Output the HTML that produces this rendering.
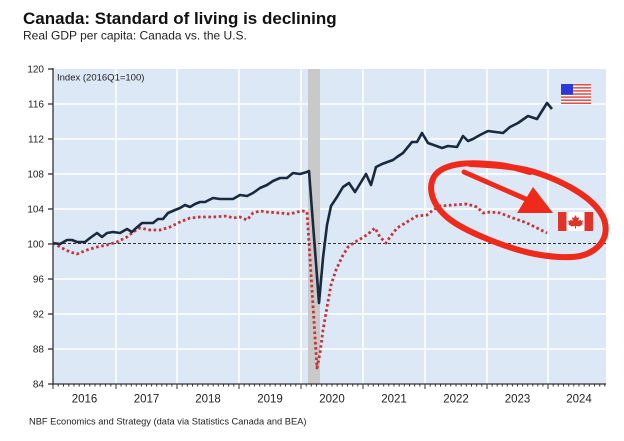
<!DOCTYPE html>
<html><head><meta charset="utf-8"><style>
html,body{margin:0;padding:0;background:#fff;}
svg{display:block;}
text{font-family:"Liberation Sans",Arial,sans-serif;}
</style></head><body>
<svg width="624" height="441" viewBox="0 0 624 441" xmlns="http://www.w3.org/2000/svg">
<rect width="624" height="441" fill="#fff"/>
<text x="23" y="24" font-size="17" font-weight="bold" fill="#111">Canada: Standard of living is declining</text>
<text x="23" y="39.5" font-size="12" fill="#222">Real GDP per capita: Canada vs. the U.S.</text>

<!-- plot background -->
<rect x="53" y="69" width="553" height="315" fill="#dde8f7"/>
<!-- grid -->
<g stroke="#fff" stroke-width="1.5">
<line x1="53" y1="104" x2="606" y2="104"/>
<line x1="53" y1="139" x2="606" y2="139"/>
<line x1="53" y1="174" x2="606" y2="174"/>
<line x1="53" y1="209" x2="606" y2="209"/>
<line x1="53" y1="279" x2="606" y2="279"/>
<line x1="53" y1="314" x2="606" y2="314"/>
<line x1="53" y1="349" x2="606" y2="349"/>
<line x1="116" y1="69" x2="116" y2="384"/>
<line x1="177" y1="69" x2="177" y2="384"/>
<line x1="239" y1="69" x2="239" y2="384"/>
<line x1="301" y1="69" x2="301" y2="384"/>
<line x1="363" y1="69" x2="363" y2="384"/>
<line x1="425" y1="69" x2="425" y2="384"/>
<line x1="487" y1="69" x2="487" y2="384"/>
<line x1="548" y1="69" x2="548" y2="384"/>
</g>
<!-- recession shading -->
<rect x="308" y="69" width="12" height="315" fill="#c9c9c9"/>
<!-- 100 line -->
<line x1="53" y1="243.5" x2="606" y2="243.5" stroke="#333" stroke-width="1" stroke-dasharray="3 2"/>

<text x="57" y="80.5" font-size="9.5" fill="#222">Index (2016Q1=100)</text>

<!-- Canada dotted -->
<polyline fill="none" stroke="#c4353a" stroke-width="2.8" stroke-dasharray="2.6 2.6" stroke-linejoin="round"
points="53,243 62,248 70,252 77,254 87,250 97,247 107,245 117,242 127,237 133,232 140,228 150,230 160,230 170,227 180,222 190,218 200,217 213,217 227,216 233,218 240,217 247,220 253,213 260,211 267,212 280,213 290,214 297,212 303,211 307,212 317,368 320,353 323,330 327,307 331,285 336,270 342,257 348,247 355,242 362,238 368,234 375,228 380,237 386,243 390,237 397,228 407,222 417,216 427,215 433,210 440,206 453,205 467,204 477,207 483,213 490,212 500,213 513,218 527,223 537,228 547,233"/>

<!-- US solid -->
<polyline fill="none" stroke="#1a2a3e" stroke-width="2.6" stroke-linejoin="round"
points="53,243 60,244 67,240 72,240 77,242 85,242 90,238 97,233 102,237 107,233 113,232 120,233 127,229 132,232 135,229 142,223 148,223 153,223 158,219 163,219 168,213 175,210 180,208 185,205 190,207 195,204 200,202 205,202 213,198 220,199 233,199 240,195 247,196 253,193 260,188 267,185 273,181 280,178 287,178 293,173 300,174 307,172 309,171 319,303 323,258 327,225 331,206 337,197 343,187 349,183 355,192 366,174 371,185 376,167 382,164 393,160 397,157 403,153 412,142 417,142 422,133 428,143 442,148 448,146 457,147 463,136 468,141 473,139 480,135 488,131 503,133 510,127 518,123 528,116 537,119 547,103 552,109"/>

<!-- axes -->
<g stroke="#333" stroke-width="1.3">
<line x1="53" y1="68" x2="53" y2="385"/>
<line x1="52" y1="384" x2="606" y2="384"/>
<line x1="48" y1="69" x2="53" y2="69"/>
<line x1="48" y1="104" x2="53" y2="104"/>
<line x1="48" y1="139" x2="53" y2="139"/>
<line x1="48" y1="174" x2="53" y2="174"/>
<line x1="48" y1="209" x2="53" y2="209"/>
<line x1="48" y1="244" x2="53" y2="244"/>
<line x1="48" y1="279" x2="53" y2="279"/>
<line x1="48" y1="314" x2="53" y2="314"/>
<line x1="48" y1="349" x2="53" y2="349"/>
<line x1="48" y1="384" x2="53" y2="384"/>
</g>
<g stroke="#333" stroke-width="1">
<path d="M53 384v5M116 384v5M177 384v5M239 384v5M301 384v5M363 384v5M425 384v5M487 384v5M548 384v5"/>
<path d="M58.2 384v2.5M63.5 384v2.5M68.8 384v2.5M74 384v2.5M79.2 384v2.5M84.5 384v2.5M89.8 384v2.5M95 384v2.5M100.2 384v2.5M105.5 384v2.5M110.8 384v2.5
M121.1 384v2.5M126.2 384v2.5M131.3 384v2.5M136.3 384v2.5M141.4 384v2.5M146.5 384v2.5M151.6 384v2.5M156.7 384v2.5M161.8 384v2.5M166.8 384v2.5M171.9 384v2.5
M182.2 384v2.5M187.3 384v2.5M192.5 384v2.5M197.7 384v2.5M202.8 384v2.5M208 384v2.5M213.2 384v2.5M218.3 384v2.5M223.5 384v2.5M228.7 384v2.5M233.8 384v2.5
M244.2 384v2.5M249.3 384v2.5M254.5 384v2.5M259.7 384v2.5M264.8 384v2.5M270 384v2.5M275.2 384v2.5M280.3 384v2.5M285.5 384v2.5M290.7 384v2.5M295.8 384v2.5
M306.2 384v2.5M311.3 384v2.5M316.5 384v2.5M321.7 384v2.5M326.8 384v2.5M332 384v2.5M337.2 384v2.5M342.3 384v2.5M347.5 384v2.5M352.7 384v2.5M357.8 384v2.5
M368.2 384v2.5M373.3 384v2.5M378.5 384v2.5M383.7 384v2.5M388.8 384v2.5M394 384v2.5M399.2 384v2.5M404.3 384v2.5M409.5 384v2.5M414.7 384v2.5M419.8 384v2.5
M430.2 384v2.5M435.3 384v2.5M440.5 384v2.5M445.7 384v2.5M450.8 384v2.5M456 384v2.5M461.2 384v2.5M466.3 384v2.5M471.5 384v2.5M476.7 384v2.5M481.8 384v2.5
M492.1 384v2.5M497.2 384v2.5M502.3 384v2.5M507.3 384v2.5M512.4 384v2.5M517.5 384v2.5M522.6 384v2.5M527.7 384v2.5M532.8 384v2.5M537.8 384v2.5M542.9 384v2.5
M553.2 384v2.5M558.3 384v2.5M563.5 384v2.5M568.7 384v2.5M573.8 384v2.5M579 384v2.5M584.2 384v2.5M589.3 384v2.5M594.5 384v2.5M599.7 384v2.5M604.8 384v2.5"/>
</g>

<g font-size="10" fill="#222" text-anchor="end">
<text x="44" y="72.6">120</text>
<text x="44" y="107.6">116</text>
<text x="44" y="142.6">112</text>
<text x="44" y="177.6">108</text>
<text x="44" y="212.6">104</text>
<text x="44" y="247.6">100</text>
<text x="44" y="282.6">96</text>
<text x="44" y="317.6">92</text>
<text x="44" y="352.6">88</text>
<text x="44" y="387.6">84</text>
</g>
<g font-size="11.5" fill="#222" text-anchor="middle">
<text x="84.5" y="402.5">2016</text>
<text x="146.5" y="402.5">2017</text>
<text x="208" y="402.5">2018</text>
<text x="270" y="402.5">2019</text>
<text x="332" y="402.5">2020</text>
<text x="394" y="402.5">2021</text>
<text x="456" y="402.5">2022</text>
<text x="517.5" y="402.5">2023</text>
<text x="579" y="402.5">2024</text>
</g>
<text x="29" y="424.5" font-size="9.3" fill="#222">NBF Economics and Strategy (data via Statistics Canada and BEA)</text>

<!-- US flag -->
<g>
<rect x="561" y="84" width="30" height="20" fill="#fff"/>
<g fill="#d9534f">
<rect x="561" y="84" width="30" height="1.54"/>
<rect x="561" y="87.08" width="30" height="1.54"/>
<rect x="561" y="90.16" width="30" height="1.54"/>
<rect x="561" y="93.24" width="30" height="1.54"/>
<rect x="561" y="96.32" width="30" height="1.54"/>
<rect x="561" y="99.4" width="30" height="1.54"/>
<rect x="561" y="102.46" width="30" height="1.54"/>
</g>
<rect x="561" y="84" width="12" height="10.8" fill="#2e3ad6"/>
</g>

<!-- Canada flag -->
<g>
<rect x="558" y="212" width="35" height="19" fill="#fff"/>
<rect x="558" y="212" width="8.5" height="19" fill="#e0342b"/>
<rect x="584.5" y="212" width="8.5" height="19" fill="#e0342b"/>
<polygon fill="#e0342b" points="575.5,215 577,218 579,217.3 578.3,221 580.5,219.8 581,221 583,220.6 582,223.2 583.2,223.8 579.5,226.5 576,226 576,228.5 575,228.5 575,226 571.5,226.5 567.8,223.8 569,223.2 568,220.6 570,221 570.5,219.8 572.7,221 572,217.3 574,218"/>
</g>

<!-- red annotation -->
<path fill="none" stroke="#ef2a1a" stroke-width="6" stroke-linecap="round" stroke-linejoin="round"
d="M470,164 C483.7,164.7 509.5,165.7 527,170 C544.5,174.3 562.5,182.5 575,190 C587.5,197.5 597.3,206.7 602,215 C606.7,223.3 606.7,233.2 603,240 C599.3,246.8 591.3,253.7 580,256 C568.7,258.3 550.8,257 535,254 C519.2,251 499.5,244 485,238 C470.5,232 456.8,225.2 448,218 C439.2,210.8 434,202.3 432,195 C430,187.7 431.3,179.2 436,174 C440.7,168.8 449.3,165.5 460,164 C470.7,162.5 488.3,163.7 500,165 C511.7,166.3 525,170.8 530,172"/>
<line x1="464" y1="172" x2="528" y2="200" stroke="#ef2a1a" stroke-width="5" stroke-linecap="round"/>
<polygon points="517,213 533,187 553,213" fill="#ef2a1a"/>
</svg>
</body></html>
